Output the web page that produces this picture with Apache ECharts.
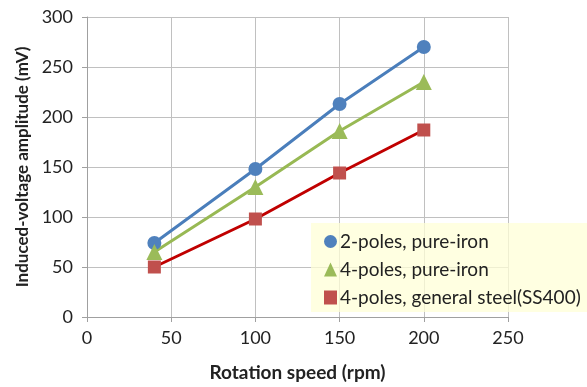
<!DOCTYPE html>
<html>
<head>
<meta charset="utf-8">
<script src="https://cdn.jsdelivr.net/npm/echarts@6/dist/echarts.min.js"></script>
<style>
html,body{margin:0;padding:0;background:#fff;}
#chart{width:587px;height:387px;}
</style>
</head>
<body>
<div id="chart"></div>
<script>
var speeds = [40, 100, 150, 200];
var twoPolesIron = [74, 148, 213, 270];
var fourPolesIron = [65, 130, 186, 235];
var fourPolesSteel = [50, 98, 144, 187];
var seriesNames = ['2-poles, pure-iron', '4-poles, pure-iron', '4-poles, general steel(SS400)'];
var xTitle = 'Rotation speed (rpm)';
var yTitle = 'Induced-voltage amplitude (mV)';

function pairs(ys){ return speeds.map(function(x,i){ return [x, ys[i]]; }); }

var FONT = 'Lato';
var chart = echarts.init(document.getElementById('chart'), null, {renderer:'canvas'});
chart.setOption({
  animation:false,
  backgroundColor:'#ffffff',
  textStyle:{fontFamily:FONT},
  grid:{left:87, right:79, top:17, bottom:65, containLabel:false},
  xAxis:{
    type:'value', min:0, max:250, interval:50,
    name:xTitle, nameLocation:'middle', nameGap:46,
    nameTextStyle:{fontFamily:FONT, fontSize:19, fontWeight:'bold', color:'#222'},
    axisLine:{show:true, lineStyle:{color:'#a0a0a0', width:1}},
    axisTick:{show:true, length:5, lineStyle:{color:'#a0a0a0'}},
    axisLabel:{fontFamily:FONT, fontSize:18, color:'#222', margin:12},
    splitLine:{show:true, lineStyle:{color:'#c0c0c0', width:1}}
  },
  yAxis:{
    type:'value', min:0, max:300, interval:50,
    name:yTitle, nameLocation:'middle', nameGap:56,
    nameTextStyle:{fontFamily:FONT, fontSize:17, fontWeight:'bold', color:'#222'},
    axisLine:{show:true, lineStyle:{color:'#a0a0a0', width:1}},
    axisTick:{show:true, length:5, lineStyle:{color:'#a0a0a0'}},
    axisLabel:{fontFamily:FONT, fontSize:18, color:'#222', margin:14},
    splitLine:{show:true, lineStyle:{color:'#c0c0c0', width:1}}
  },
  legend:{
    orient:'vertical', left:311, top:223,
    padding:[9,11,5,13],
    itemGap:9, itemWidth:13, itemHeight:14,
    backgroundColor:'rgba(255,255,215,0.75)',
    textStyle:{fontFamily:FONT, fontSize:19, color:'#222', padding:[0,0,0,-2]},
    data:[
      {name:seriesNames[0], icon:'circle'},
      {name:seriesNames[1], icon:'triangle'},
      {name:seriesNames[2], icon:'rect'}
    ]
  },
  series:[
    {name:seriesNames[0], type:'line', data:pairs(twoPolesIron),
     symbol:'circle', symbolSize:14,
     lineStyle:{color:'#4a7ebb', width:3}, itemStyle:{color:'#4f81bd'}},
    {name:seriesNames[1], type:'line', data:pairs(fourPolesIron),
     symbol:'triangle', symbolSize:16,
     lineStyle:{color:'#98b954', width:3}, itemStyle:{color:'#9bbb59'}},
    {name:seriesNames[2], type:'line', data:pairs(fourPolesSteel),
     symbol:'rect', symbolSize:13,
     lineStyle:{color:'#c00000', width:3}, itemStyle:{color:'#c0504d'}}
  ]
});
</script>
</body>
</html>
